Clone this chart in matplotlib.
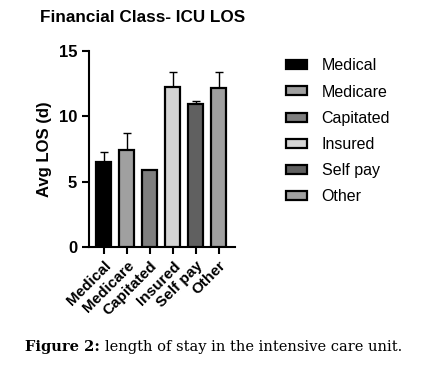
import matplotlib
matplotlib.use("Agg")
import matplotlib.pyplot as plt
from matplotlib.patches import Patch

categories = ["Medical", "Medicare", "Capitated", "Insured", "Self pay", "Other"]
values = [6.53, 7.40, 5.92, 12.27, 10.92, 12.14]
err_up = [0.76, 1.35, 0.0, 1.14, 0.28, 1.27]
colors = ["#000000", "#a0a0a0", "#7f7f7f", "#d4d4d4", "#606060", "#a0a0a0"]
yticks = [0, 5, 10, 15]

plt.rcParams['font.family'] = ['Liberation Sans', 'DejaVu Sans']
fig = plt.figure(figsize=(4.41, 3.71), dpi=100)
ax = fig.add_axes([89/441, 1-247/371, (235-89)/441, (247-51)/371])

x = list(range(len(categories)))
ax.bar(x, values, width=0.65, color=colors, edgecolor="black", linewidth=1.6, zorder=3)
ax.errorbar(x, values, yerr=[[0]*len(x), err_up], fmt="none", ecolor="black",
            elinewidth=1.0, capsize=3, capthick=1.0, zorder=2)

ax.set_xlim(-0.65, 5.7)
ax.set_ylim(0, 15)
ax.set_yticks(yticks)
ax.set_yticklabels([str(t) for t in yticks], fontweight="bold", fontsize=12)
ax.set_xticks(x)
ax.set_xticklabels(categories, rotation=45, ha="right", rotation_mode="anchor",
                   fontweight="bold", fontsize=11)
for s in ["top", "right"]:
    ax.spines[s].set_visible(False)
for s in ["left", "bottom"]:
    ax.spines[s].set_linewidth(1.5)
ax.tick_params(axis="both", width=1.5, length=5, direction="out")
ax.set_ylabel("Avg LOS (d)", fontweight="bold", fontsize=12, labelpad=5)

fig.text(40/441, 1-18/371, "Financial Class- ICU LOS", fontweight="bold", fontsize=12.3,
         va="center", ha="left")

handles = [Patch(facecolor=c, edgecolor="black", linewidth=1.6) for c in colors]
fig.legend(handles, categories, loc="upper left", bbox_to_anchor=(272/441, 1-44/371),
           frameon=False, fontsize=11.5, handlelength=1.3, handleheight=0.5,
           labelspacing=0.7, handletextpad=0.9)

t1 = fig.text(25/441, 1-347/371, "Figure 2:", fontweight="bold", fontsize=10.5,
              family=["DejaVu Serif"], va="center", ha="left")
fig.canvas.draw()
bb = t1.get_window_extent(renderer=fig.canvas.get_renderer())
fig.text((bb.x1 + 5)/441, 1-347/371, "length of stay in the intensive care unit.", fontsize=10.5,
         family=["DejaVu Serif"], va="center", ha="left")

fig.savefig("out.png", dpi=100, facecolor="white")
